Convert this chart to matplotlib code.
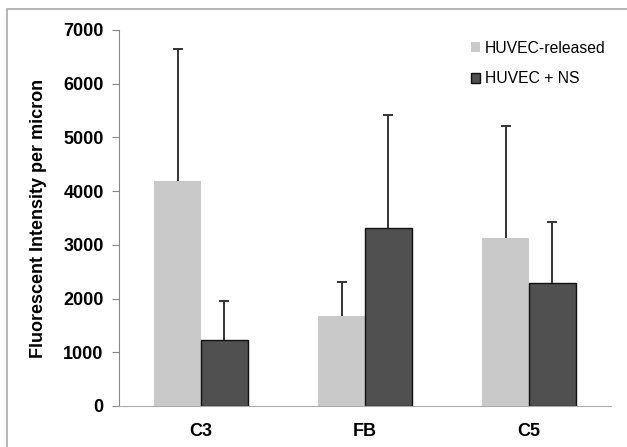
import numpy as np
from matplotlib import pyplot as plt
from matplotlib.patches import Rectangle

categories = ['C3', 'FB', 'C5']
released = [4190, 1680, 3125]
released_top = [6640, 2315, 5215]
ns = [1230, 3320, 2285]
ns_top = [1955, 5415, 3420]

fig = plt.figure(figsize=(6.27, 4.47), dpi=100)
ax = fig.add_axes([119 / 627, 1 - 406 / 447, 492 / 627, 376 / 447])

# outer frame (only left/top visible in the crop)
fig.patches.append(Rectangle((7 / 627, -0.1), 1.2, 1.1 - 9 / 447, transform=fig.transFigure,
                             fill=False, edgecolor='#a8a8a8', linewidth=1.2))

x = np.arange(len(categories))
w = 0.286
err_rel = [[0] * 3, np.array(released_top) - np.array(released)]
err_ns = [[0] * 3, np.array(ns_top) - np.array(ns)]

ax.bar(x - w / 2, released, w, color='#c9c9c9', edgecolor='none', label='HUVEC-released', zorder=2)
ax.bar(x + w / 2, ns, w, color='#505050', edgecolor='#111111', linewidth=1, label='HUVEC + NS', zorder=2)
for xs, vals, err in [(x - w / 2, released, err_rel), (x + w / 2, ns, err_ns)]:
    eb = ax.errorbar(xs, vals, yerr=err, fmt='none', ecolor='#333333', elinewidth=1.4,
                     capsize=3.3, capthick=1.4, zorder=3)
    eb[1][0].set_visible(False)  # hide lower caps

ax.set_xlim(-0.5, 2.5)
ax.set_ylim(0, 7000)
ax.set_yticks(range(0, 7001, 1000))
ax.set_xticks(x)
ax.set_xticklabels(categories, fontsize=13, fontweight='bold', family='Liberation Sans')
for lbl in ax.get_yticklabels():
    lbl.set_fontsize(13)
    lbl.set_fontweight('bold')
    lbl.set_family('Liberation Sans')
ax.tick_params(axis='x', length=0, pad=12)
ax.tick_params(axis='y', direction='out', length=5, color='#888888', pad=6)
for s in ['top', 'right']:
    ax.spines[s].set_visible(False)
ax.spines['left'].set_color('#888888')
ax.spines['bottom'].set_color('#aaaaaa')
ax.set_ylabel('Fluorescent Intensity per micron', fontsize=13, fontweight='bold',
              family='Liberation Sans', labelpad=12)

leg = ax.legend(loc='upper right', bbox_to_anchor=(1.018, 1.009), frameon=False,
                prop={'family': 'Liberation Sans', 'size': 11.3}, handlelength=0.6, handleheight=0.6,
                handletextpad=0.3, labelspacing=1.0)

fig.savefig('out.png', dpi=100)
